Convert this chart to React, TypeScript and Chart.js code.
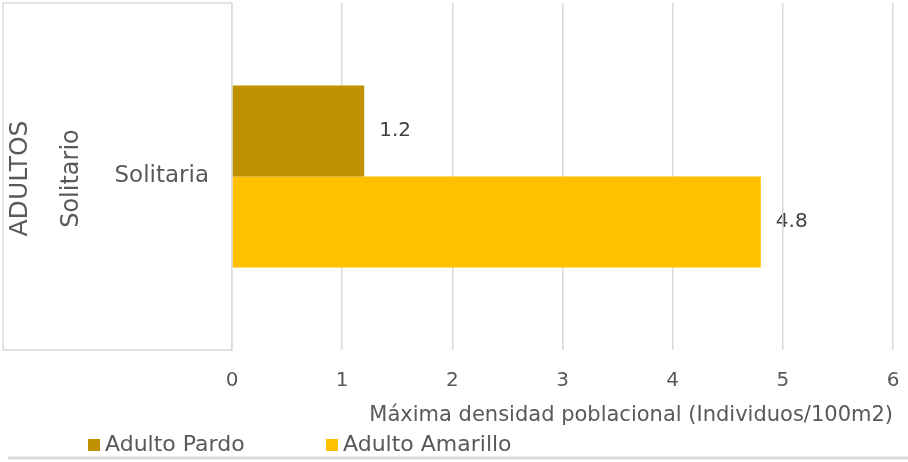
import React, { useEffect, useRef } from "react";
import { Chart, registerables } from "chart.js";

Chart.register(...registerables);

const categories = ["Solitaria"];
const groupLabel = "Solitario";
const outerLabel = "ADULTOS";
const seriesNames = ["Adulto Pardo", "Adulto Amarillo"];
const pardoValues = [1.2];
const amarilloValues = [4.8];
const seriesColors = ["#BF9000", "#FFC000"];
const xMin = 0;
const xMax = 6;
const xStep = 1;
const xTitle = "Máxima densidad poblacional (Individuos/100m2)";

const FONT = "'DejaVu Sans', sans-serif";
const TEXT = "#595959";
const GRID = "#D9D9D9";

const extrasPlugin = {
  id: "extras",
  beforeDraw(chart: any) {
    const ctx = chart.ctx;
    ctx.save();
    ctx.fillStyle = "#404040";
    ctx.font = `20px ${FONT}`;
    ctx.textAlign = "left";
    ctx.textBaseline = "middle";
    chart.data.datasets.forEach((ds: any, i: number) => {
      const meta = chart.getDatasetMeta(i);
      meta.data.forEach((bar: any, j: number) => {
        const v = ds.data[j];
        ctx.fillText(String(v), bar.x + 15, bar.y);
      });
    });
    ctx.restore();
  },
  afterDraw(chart: any) {
    const ctx = chart.ctx;
    const area = chart.chartArea;
    ctx.save();
    // left category box
    ctx.strokeStyle = GRID;
    ctx.lineWidth = 1.5;
    ctx.beginPath();
    ctx.moveTo(area.left, area.top);
    ctx.lineTo(3, area.top);
    ctx.lineTo(3, area.bottom);
    ctx.lineTo(area.left, area.bottom);
    ctx.stroke();

    // rotated group labels
    const midY = (area.top + area.bottom) / 2 + 2;
    ctx.fillStyle = TEXT;
    ctx.textAlign = "center";
    ctx.textBaseline = "middle";
    ctx.save();
    ctx.font = `25px ${FONT}`;
    ctx.translate(20, midY);
    ctx.rotate(-Math.PI / 2);
    ctx.fillText(outerLabel, 0, 0);
    ctx.restore();
    ctx.save();
    ctx.font = `24px ${FONT}`;
    ctx.translate(72, midY);
    ctx.rotate(-Math.PI / 2);
    ctx.fillText(groupLabel, 0, 0);
    ctx.restore();

    // legend
    const legendX = [88, 326];
    ctx.font = `22px ${FONT}`;
    ctx.textAlign = "left";
    ctx.textBaseline = "middle";
    seriesNames.forEach((name, i) => {
      ctx.fillStyle = seriesColors[i];
      ctx.fillRect(legendX[i], 439, 12, 12);
      ctx.fillStyle = TEXT;
      ctx.fillText(name, legendX[i] + 17, 445);
    });

    // bottom border shadow
    ctx.strokeStyle = "#D9D9D9";
    ctx.lineWidth = 3;
    ctx.beginPath();
    ctx.moveTo(8, 458);
    ctx.lineTo(908, 458);
    ctx.stroke();
    ctx.restore();
  },
};

export default function App() {
  const ref = useRef<HTMLCanvasElement>(null);
  useEffect(() => {
    if (!ref.current) return;
    const chart = new Chart(ref.current, {
      type: "bar",
      data: {
        labels: categories,
        datasets: [
          {
            label: seriesNames[0],
            data: pardoValues,
            backgroundColor: seriesColors[0],
            barPercentage: 1,
            categoryPercentage: 0.525,
          },
          {
            label: seriesNames[1],
            data: amarilloValues,
            backgroundColor: seriesColors[1],
            barPercentage: 1,
            categoryPercentage: 0.525,
          },
        ],
      },
      options: {
        indexAxis: "y",
        responsive: false,
        animation: false,
        devicePixelRatio: 1,
        layout: { padding: { top: 3, left: 0, right: 15, bottom: 0 } },
        plugins: {
          legend: { display: false },
          tooltip: { enabled: false },
        },
        scales: {
          x: {
            min: xMin,
            max: xMax,
            ticks: {
              stepSize: xStep,
              color: TEXT,
              font: { family: FONT, size: 20 },
              padding: 19,
            },
            grid: { color: GRID, lineWidth: 1.5, drawTicks: false },
            border: { display: false },
            title: {
              display: true,
              text: xTitle,
              align: "end",
              color: TEXT,
              font: { family: FONT, size: 21 },
              padding: { top: 0, bottom: 34 },
            },
            afterFit(scale: any) {
              scale.height = 112;
              scale.paddingLeft = 0;
              scale.paddingRight = 0;
            },
          },
          y: {
            ticks: {
              color: TEXT,
              font: { family: FONT, size: 23 },
              padding: 23,
            },
            grid: { display: false, drawTicks: false },
            border: { display: true, color: GRID, width: 1.5 },
            afterFit(scale: any) {
              scale.width = 232;
              scale.paddingTop = 0;
              scale.paddingBottom = 0;
            },
          },
        },
      },
      plugins: [extrasPlugin],
    } as any);
    return () => chart.destroy();
  }, []);
  return (
    <div style={{ position: "absolute", left: 0, top: 0, width: 908, height: 462, background: "#fff" }}>
      <canvas ref={ref} width={908} height={462} style={{ width: 908, height: 462, display: "block" }} />
    </div>
  );
}
